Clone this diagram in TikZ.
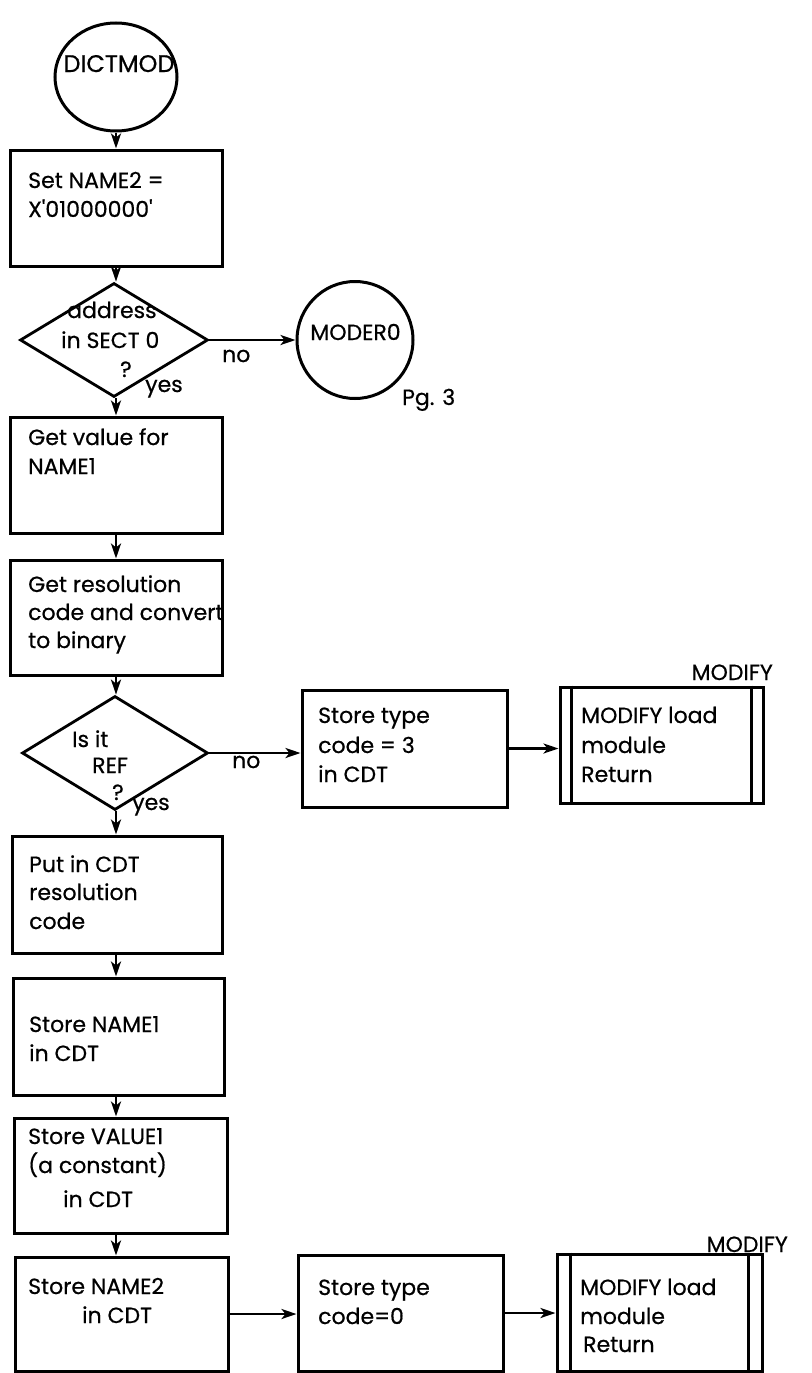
\documentclass[tikz,border=0pt]{standalone}
\usepackage{fontspec}
\setmainfont{Poppins}[FakeBold=0.6]
\usetikzlibrary{arrows.meta,shapes.geometric}
\begin{document}
\begin{tikzpicture}[x=1pt,y=-1pt,
  box/.style={draw, line width=3pt, inner sep=0pt, rectangle},
  oval/.style={draw, line width=3pt, inner sep=0pt, ellipse},
  dia/.style={draw, line width=2.8pt, inner sep=0pt, diamond},
  txt/.style={anchor=base west, inner sep=0pt, font=\fontsize{22}{27}\selectfont},
  arr/.style={-{Stealth[length=15pt,width=10pt,inset=4pt]}, line width=2.6pt},
  bar/.style={line width=3pt}]
\useasboundingbox (0,0) rectangle (811,1373);
\coordinate (col) at (116,0);
% shapes
\node[oval, minimum width=122pt, minimum height=108pt] (start) at (116,77) {};
\node[box, minimum width=212pt, minimum height=116pt] (b1) at (116,208) {};
\node[dia, minimum width=188pt, minimum height=114pt] (d1) at (114,340) {};
\node[oval, minimum width=116pt, minimum height=117pt] (m0) at (355,340) {};
\node[box, minimum width=212pt, minimum height=116pt] (b2) at (116,475) {};
\node[box, minimum width=212pt, minimum height=115pt] (b3) at (116,617.5) {};
\node[dia, minimum width=186pt, minimum height=114pt] (d2) at (115,753) {};
\node[box, minimum width=210pt, minimum height=117pt] (b4) at (117,894.5) {};
\node[box, minimum width=211pt, minimum height=117pt] (b5) at (118.5,1036.5) {};
\node[box, minimum width=213pt, minimum height=115pt] (b6) at (120.5,1175.5) {};
\node[box, minimum width=213pt, minimum height=114pt] (b7) at (121.5,1314) {};
\node[box, minimum width=205pt, minimum height=117pt] (s1) at (404.5,748.5) {};
\node[box, minimum width=203pt, minimum height=116pt] (p1) at (661.5,745) {};
\node[box, minimum width=205pt, minimum height=116pt] (s2) at (400.5,1313) {};
\node[box, minimum width=205pt, minimum height=117pt] (p2) at (659.5,1312.5) {};
\draw[bar] ([xshift=13pt]p1.north west) -- ([xshift=13pt]p1.south west);
\draw[bar] ([xshift=-13pt]p1.north east) -- ([xshift=-13pt]p1.south east);
\draw[bar] ([xshift=15pt]p2.north west) -- ([xshift=15pt]p2.south west);
\draw[bar] ([xshift=-15pt]p2.north east) -- ([xshift=-15pt]p2.south east);
% texts
\node[txt, anchor=base, font=\fontsize{24}{28}\selectfont] (tstart) at (119,72) {DICTMOD};
\node[txt] (t1a) at (28,188) {Set NAME2 =};
\node[txt] (t1b) at (28,217) {X\textquotesingle 01000000\textquotesingle};
\node[txt] (td1a) at (67,318) {address};
\node[txt] (td1b) at (61,348) {in SECT 0};
\node[txt] (td1c) at (120,377) {?};
\node[txt] (tno1) at (222,362) {no};
\node[txt] (tyes1) at (145,392) {yes};
\node[txt, anchor=base] (tm0) at (355.5,340) {MODER0};
\node[txt] (tpg) at (402,405) {Pg. 3};
\node[txt] (t2a) at (28,445) {Get value for};
\node[txt] (t2b) at (28,474) {NAME1};
\node[txt] (t3a) at (28,592) {Get resolution};
\node[txt] (t3b) at (28,620) {code and convert};
\node[txt] (t3c) at (28,648) {to binary};
\node[txt] (td2a) at (72,747) {Is it};
\node[txt] (td2b) at (92,773) {REF};
\node[txt] (td2c) at (112,800) {?};
\node[txt] (tno2) at (232,768) {no};
\node[txt] (tyes2) at (132,810) {yes};
\node[txt] (ts1a) at (318,723) {Store type};
\node[txt] (ts1b) at (318,753) {code = 3};
\node[txt] (ts1c) at (318,782) {in CDT};
\node[txt, anchor=base east] (tmod1) at (773,680) {MODIFY};
\node[txt] (tp1a) at (581,723) {MODIFY load};
\node[txt] (tp1b) at (581,753) {module};
\node[txt] (tp1c) at (581,782) {Return};
\node[txt] (t4a) at (29,872) {Put in CDT};
\node[txt] (t4b) at (29,900) {resolution};
\node[txt] (t4c) at (29,929) {code};
\node[txt] (t5a) at (29,1032) {Store NAME1};
\node[txt] (t5b) at (29,1061) {in CDT};
\node[txt] (t6a) at (28,1144) {Store VALUE1};
\node[txt] (t6b) at (28,1173) {(a constant)};
\node[txt] (t6c) at (63,1207) {in CDT};
\node[txt] (t7a) at (28,1294) {Store NAME2};
\node[txt] (t7b) at (82,1323) {in CDT};
\node[txt] (ts2a) at (318,1295) {Store type};
\node[txt] (ts2b) at (318,1324) {code=0};
\node[txt, anchor=base east] (tmod2) at (788,1252) {MODIFY};
\node[txt] (tp2a) at (580,1295) {MODIFY load};
\node[txt] (tp2b) at (580,1324) {module};
\node[txt] (tp2c) at (583,1352) {Return};
% connectors
\draw[arr] (start.south -| col) -- (b1.north -| col);
\draw[arr] (b1.south -| col) -- (d1.north -| col);
\draw[arr] (d1.east) -- (m0.west);
\draw[arr] (d1.south -| col) -- (b2.north -| col);
\draw[arr] (b2.south -| col) -- (b3.north -| col);
\draw[arr] (b3.south -| col) -- (d2.north -| col);
\draw[arr] (d2.east) -- (d2.east -| s1.west);
\draw[arr] (s1.east) -- (s1.east -| p1.west);
\draw[arr] (d2.south -| col) -- (b4.north -| col);
\draw[arr] (b4.south -| col) -- (b5.north -| col);
\draw[arr] (b5.south -| col) -- (b6.north -| col);
\draw[arr] (b6.south -| col) -- (b7.north -| col);
\draw[arr] (b7.east) -- (b7.east -| s2.west);
\draw[arr] (s2.east) -- (s2.east -| p2.west);
\end{tikzpicture}
\end{document}
